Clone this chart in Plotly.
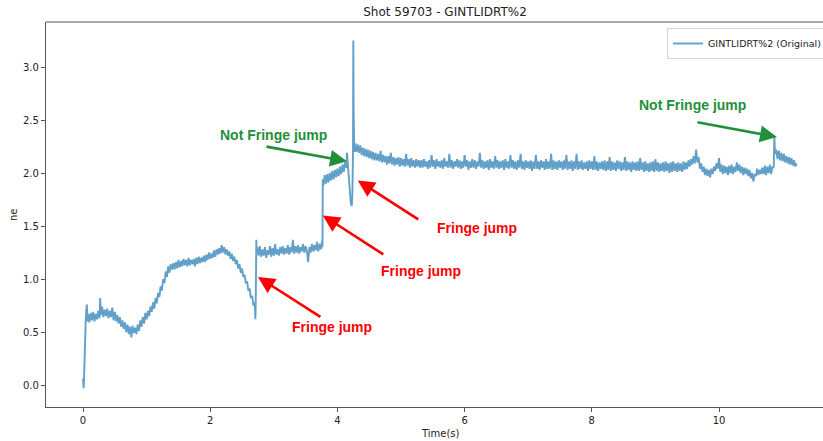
import plotly.graph_objects as go

DT = 0.02


def grid(t0, n):
    return [round(t0 + DT * i, 3) for i in range(n)]


# ---- data (time in s, ne) ----
t_start = [0.00, 0.005, 0.01, 0.015, 0.02, 0.03, 0.04, 0.05, 0.06, 0.07]
ne_start = [0.06, 0.01, -0.03, 0.03, 0.18, 0.38, 0.56, 0.70, 0.76, 0.60]

ne_early = [0.67, 0.59, 0.68, 0.61, 0.69, 0.60, 0.67, 0.62, 0.70, 0.63]          # from 0.08
t_early = grid(0.08, len(ne_early))

t_spike0 = [0.27]
ne_spike0 = [0.82]

ne_sag = [0.66, 0.74, 0.64, 0.71, 0.65, 0.72, 0.63, 0.70, 0.64, 0.73, 0.61, 0.69, 0.60,
          0.66, 0.58, 0.64, 0.55, 0.61, 0.53, 0.59, 0.50, 0.57, 0.48, 0.55, 0.45, 0.56, 0.49]  # from 0.28
t_sag = grid(0.28, len(ne_sag))

ne_rise = [0.54, 0.48, 0.57, 0.51, 0.61, 0.55, 0.64, 0.58, 0.68, 0.62, 0.70, 0.65, 0.74, 0.69, 0.78,
           0.72, 0.82, 0.77, 0.87, 0.83, 0.93, 0.89, 1.00, 0.96, 1.07, 1.02, 1.12, 1.06, 1.14, 1.09]  # from 0.82
t_rise = grid(0.82, len(ne_rise))

ne_plateau = [1.15, 1.09, 1.16, 1.10, 1.18, 1.11, 1.17, 1.12, 1.19, 1.13,
              1.18, 1.12, 1.20, 1.13, 1.18, 1.14, 1.19, 1.12, 1.20, 1.14,
              1.21, 1.15, 1.20, 1.16, 1.22, 1.16, 1.23, 1.18, 1.25, 1.19,
              1.24, 1.20, 1.27, 1.21, 1.28, 1.23, 1.29, 1.24, 1.32, 1.25,
              1.30, 1.23, 1.28]  # from 1.42
t_plateau = grid(1.42, len(ne_plateau))

ne_decline = [1.22, 1.26, 1.19, 1.24, 1.17, 1.21, 1.14, 1.18, 1.10, 1.14,
              1.06, 1.10, 1.02, 1.04, 0.96, 0.98, 0.89, 0.91, 0.82, 0.84, 0.75, 0.78]  # from 2.28
t_decline = grid(2.28, len(ne_decline))

t_jump1 = [2.705, 2.71, 2.715, 2.72, 2.725, 2.73]
ne_jump1 = [0.70, 0.62, 0.74, 1.05, 1.37, 1.24]

ne_step1 = [1.30, 1.22, 1.31, 1.21, 1.28, 1.22, 1.30, 1.20, 1.27, 1.23,
            1.31, 1.21, 1.29, 1.22, 1.33, 1.23, 1.28, 1.22, 1.30, 1.24,
            1.31, 1.23, 1.29, 1.24, 1.32, 1.23, 1.30, 1.25, 1.37, 1.24,
            1.31, 1.25, 1.32, 1.24, 1.30, 1.26, 1.33, 1.25, 1.31, 1.26,
            1.16, 1.30, 1.25, 1.33, 1.26, 1.32, 1.27, 1.35, 1.26, 1.33,
            1.28, 1.36]  # from 2.74
t_step1 = grid(2.74, len(ne_step1))

t_jump2 = [3.765, 3.77, 3.78]
ne_jump2 = [1.30, 1.94, 1.88]

ne_step2 = [1.98, 1.90, 1.99, 1.91, 2.00, 1.93, 2.02, 1.94, 2.03, 1.96,
            2.04, 1.97, 2.06, 1.99, 2.08, 2.01, 2.10, 2.05]  # from 3.80
t_step2 = grid(3.80, len(ne_step2))

t_jump3 = [4.15, 4.17, 4.19, 4.21, 4.225, 4.235, 4.245, 4.25, 4.255, 4.265, 4.28]
ne_jump3 = [2.19, 2.02, 1.85, 1.72, 1.69, 1.80, 2.20, 3.25, 2.60, 2.20, 2.28]

ne_decay = [2.20, 2.27, 2.19, 2.26, 2.17, 2.24, 2.16, 2.23, 2.15, 2.22,
            2.14, 2.21, 2.13, 2.20, 2.12, 2.19, 2.12, 2.18, 2.11, 2.21,
            2.10, 2.17, 2.10, 2.16, 2.08, 2.16, 2.09, 2.19, 2.08, 2.15,
            2.07, 2.14, 2.08, 2.15, 2.06, 2.14, 2.07, 2.13, 2.06, 2.18,
            2.07, 2.13, 2.05, 2.14, 2.06, 2.12, 2.05, 2.13, 2.06, 2.12,
            2.05]  # from 4.30
t_decay = grid(4.30, len(ne_decay))

ne_flat = [2.12, 2.05, 2.13, 2.06, 2.11, 2.04, 2.12, 2.05, 2.17, 2.06,
           2.12, 2.04, 2.13, 2.06, 2.11, 2.05, 2.12, 2.04, 2.14, 2.06,
           2.11, 2.05, 2.18, 2.05, 2.12, 2.04, 2.11, 2.06, 2.13, 2.05,
           2.12, 2.04, 2.11, 2.05, 2.17, 2.06, 2.12, 2.03, 2.11, 2.05,
           2.13, 2.05, 2.12, 2.04, 2.11, 2.06, 2.19, 2.05, 2.12, 2.04,
           2.11, 2.05, 2.12, 2.03, 2.13, 2.05, 2.11, 2.04, 2.16, 2.05,
           2.12, 2.04, 2.11, 2.05, 2.12, 2.03, 2.13, 2.05, 2.11, 2.04,
           2.17, 2.05, 2.12, 2.04, 2.11, 2.03, 2.12, 2.05, 2.18, 2.04,
           2.11, 2.03, 2.12, 2.05, 2.11, 2.04, 2.12, 2.02, 2.11, 2.04,
           2.17, 2.04, 2.11, 2.03, 2.12, 2.05, 2.11, 2.03, 2.13, 2.04,
           2.11, 2.04, 2.18, 2.03, 2.12, 2.04, 2.11, 2.03, 2.12, 2.05,
           2.11, 2.03, 2.12, 2.04, 2.17, 2.03, 2.11, 2.04, 2.12, 2.02,
           2.11, 2.04, 2.18, 2.03, 2.11, 2.04, 2.12, 2.03, 2.10, 2.04,
           2.11, 2.02, 2.12, 2.04, 2.11, 2.03, 2.16, 2.03, 2.11, 2.02,
           2.10, 2.04, 2.11, 2.03, 2.12, 2.02, 2.11, 2.03, 2.15, 2.02,
           2.11, 2.03, 2.10, 2.02, 2.12, 2.04, 2.11, 2.02, 2.10, 2.03,
           2.15, 2.02, 2.11, 2.03, 2.10, 2.01, 2.11, 2.03, 2.10, 2.02,
           2.11, 2.02, 2.14, 2.03, 2.10, 2.01, 2.11, 2.02, 2.09, 2.01,
           2.10, 2.02, 2.11, 2.01, 2.13, 2.02, 2.10, 2.01, 2.09, 2.02,
           2.10, 2.01, 2.11, 2.02, 2.09, 2.00, 2.10, 2.01, 2.11, 2.02,
           2.09, 2.01, 2.10, 2.02, 2.09, 2.01, 2.11, 2.03, 2.10]  # from 5.32
t_flat = grid(5.32, len(ne_flat))

ne_late = [2.04, 2.12, 2.06, 2.13, 2.08, 2.16, 2.09, 2.22, 2.10, 2.15,
           2.04, 2.09, 2.01, 2.06, 1.98, 2.04, 1.97, 2.03, 1.96, 2.04,
           1.99, 2.06, 2.02, 2.09, 2.04, 2.14, 2.01, 2.08, 1.99, 2.07,
           2.00, 2.06, 1.98, 2.07, 2.00, 2.08, 1.99, 2.06, 2.01, 2.10,
           2.02, 2.08, 2.00, 2.06, 1.98, 2.05, 1.99, 2.04, 1.97, 2.03,
           1.95, 2.00, 1.92, 1.99, 1.97, 2.04, 1.98, 2.03, 1.99, 2.05,
           1.99, 2.07, 1.98, 2.06, 2.00, 2.08, 1.99, 2.06]  # from 9.50
t_late = grid(9.50, len(ne_late))

t_jump4 = [10.86, 10.87, 10.88]
ne_jump4 = [2.05, 2.35, 2.18]

ne_end = [2.22, 2.13, 2.21, 2.12, 2.19, 2.11, 2.18, 2.10, 2.16, 2.09,
          2.15, 2.08, 2.14, 2.07, 2.12, 2.06, 2.09]  # from 10.90
t_end = grid(10.90, len(ne_end))

time_s = (t_start + t_early + t_spike0 + t_sag + t_rise + t_plateau + t_decline + t_jump1 +
          t_step1 + t_jump2 + t_step2 + t_jump3 + t_decay + t_flat + t_late + t_jump4 + t_end)
ne = (ne_start + ne_early + ne_spike0 + ne_sag + ne_rise + ne_plateau + ne_decline + ne_jump1 +
      ne_step1 + ne_jump2 + ne_step2 + ne_jump3 + ne_decay + ne_flat + ne_late + ne_jump4 + ne_end)

x_ticks = [0, 2, 4, 6, 8, 10]
y_ticks = [0.0, 0.5, 1.0, 1.5, 2.0, 2.5, 3.0]

# annotations: (label, colour, text centre (t, ne), arrow tip (t, ne), tail offset px)
notes = [
    ("Not Fringe jump", "#22903a", (2.99, 2.36), (4.15, 2.11), (-82, -15)),
    ("Not Fringe jump", "#22903a", (9.58, 2.64), (10.91, 2.34), (-81, -15)),
    ("Fringe jump", "#ff0000", (3.92, 0.55), (2.75, 1.02), (64, 41)),
    ("Fringe jump", "#ff0000", (5.31, 1.075), (3.77, 1.60), (62, 40)),
    ("Fringe jump", "#ff0000", (6.19, 1.48), (4.32, 1.93), (62, 40)),
]

FONT = "DejaVu Sans"
W, H = 823, 441
L, R, T, B = 46, 0, 22, 34
pw, ph = W - L - R, H - T - B


def px_x(px):
    return (px - L) / pw


def px_y(py):
    return (H - B - py) / ph


fig = go.Figure()
fig.add_trace(go.Scatter(
    x=time_s, y=ne, mode="lines", name="GINTLIDRT%2 (Original)",
    line=dict(color="rgba(31,119,180,0.7)", width=1.9),
))

for label, col, (tx, ty), (ax_, ay_), (dx, dy) in notes:
    fig.add_annotation(
        x=tx, y=ty, xref="x", yref="y", text="<b>%s</b>" % label, showarrow=False,
        font=dict(family="Liberation Sans", size=14, color=col),
        xanchor="center", yanchor="middle")
    fig.add_annotation(
        x=ax_, y=ay_, xref="x", yref="y", text="", showarrow=True,
        ax=dx, ay=dy, arrowhead=2, arrowsize=1.3, arrowwidth=2.6, arrowcolor=col,
        standoff=0, startstandoff=0)

fig.add_annotation(x=px_x(440), y=px_y(433), xref="paper", yref="paper", text="Time(s)",
                   showarrow=False, font=dict(family=FONT, size=10, color="#222"),
                   xanchor="center", yanchor="middle")
fig.add_annotation(x=px_x(13), y=px_y(215), xref="paper", yref="paper",
                   text="ne", textangle=-90, showarrow=False,
                   font=dict(family=FONT, size=10, color="#222"),
                   xanchor="center", yanchor="middle")

# top spine (right spine lies outside the cropped picture)
fig.add_shape(type="line", xref="paper", yref="paper", x0=0, x1=1, y0=1, y1=1,
              line=dict(color="#555", width=1.2))

fig.update_layout(
    width=W, height=H,
    margin=dict(l=L, r=R, t=T, b=B, autoexpand=False),
    paper_bgcolor="white", plot_bgcolor="white",
    title=dict(text="Shot 59703 - GINTLIDRT%2", x=445 / W, xref="container",
               y=1 - 12 / H, yref="container", xanchor="center", yanchor="middle",
               font=dict(family=FONT, size=12, color="#222")),
    font=dict(family=FONT, size=10, color="#222"),
    showlegend=True,
    legend=dict(x=px_x(667), y=px_y(28), xanchor="left", yanchor="top",
                bgcolor="rgba(255,255,255,0.9)", bordercolor="#d5d5d5", borderwidth=1,
                font=dict(family=FONT, size=9.5, color="#222"), itemwidth=30),
    xaxis=dict(range=[-0.582, 11.635], tickvals=x_ticks, ticktext=[str(v) for v in x_ticks],
               showgrid=False, zeroline=False, showline=True, linecolor="#555", linewidth=1.2,
               ticks="outside", ticklen=4, tickcolor="#555", tickfont=dict(size=10)),
    yaxis=dict(range=[-0.2075, 3.4245], tickvals=y_ticks,
               ticktext=["%.1f" % v for v in y_ticks],
               showgrid=False, zeroline=False, showline=True, linecolor="#555", linewidth=1.2,
               ticks="outside", ticklen=4, tickcolor="#555", tickfont=dict(size=10)),
)

fig.write_html("out.html")
